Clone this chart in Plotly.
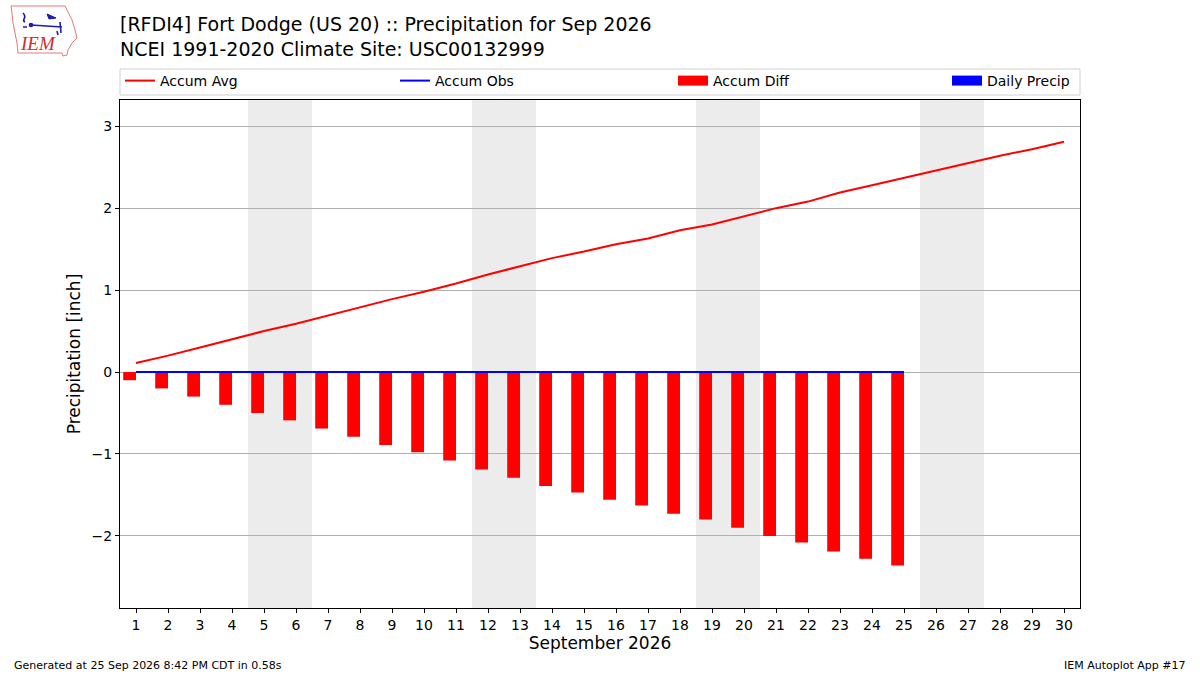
import base64
import plotly.graph_objects as go

# Dados (polegadas)
dias = list(range(1, 31))
accum_avg = [0.11, 0.20, 0.30, 0.40, 0.50, 0.59, 0.69, 0.79, 0.89, 0.98,
             1.08, 1.19, 1.29, 1.39, 1.47, 1.56, 1.63, 1.73, 1.80, 1.90,
             2.00, 2.08, 2.19, 2.28, 2.37, 2.46, 2.55, 2.64, 2.72, 2.81]
dias_obs = list(range(1, 26))
accum_obs = [0.0] * 25
daily_precip = [0.0] * 25
accum_diff = [-0.10, -0.20, -0.30, -0.40, -0.50, -0.59, -0.69, -0.79, -0.89, -0.98,
              -1.08, -1.19, -1.29, -1.39, -1.47, -1.56, -1.63, -1.73, -1.80, -1.90,
              -2.00, -2.08, -2.19, -2.28, -2.36]
fins_de_semana = [5, 6, 12, 13, 19, 20, 26, 27]
y_ticks = [-2, -1, 0, 1, 2, 3]

FONTE = "DejaVu Sans"
W, H = 1200, 675
ML, MR, MT, MB = 120, 120, 100, 67
PW, PH = W - ML - MR, H - MT - MB


def px_x(p):
    # pixel horizontal -> fracao do papel
    return (p - ML) / PW


def px_y(p):
    # pixel vertical -> fracao do papel
    return (H - MB - p) / PH


fig = go.Figure()

# barras (a legenda usa simbolos retangulares separados)
fig.add_trace(go.Bar(x=dias_obs, y=accum_diff, width=0.4, offset=-0.4,
                     marker=dict(color="#ff0000", line=dict(width=0)),
                     showlegend=False, name="Accum Diff"))
fig.add_trace(go.Bar(x=dias_obs, y=daily_precip, width=0.4, offset=0,
                     marker=dict(color="#0000ff", line=dict(width=0)),
                     showlegend=False, name="Daily Precip"))

fig.add_trace(go.Scatter(x=dias, y=accum_avg, mode="lines", name="Accum Avg",
                         line=dict(color="#ff0000", width=2), legend="legend"))
fig.add_trace(go.Scatter(x=dias_obs, y=accum_obs, mode="lines", name="Accum Obs",
                         line=dict(color="#0000ff", width=2), legend="legend2"))
fig.add_trace(go.Scatter(x=[None], y=[None], mode="lines", name="Accum Diff",
                         line=dict(color="#ff0000", width=10), legend="legend3"))
fig.add_trace(go.Scatter(x=[None], y=[None], mode="lines", name="Daily Precip",
                         line=dict(color="#0000ff", width=10), legend="legend4"))

# sombreamento dos fins de semana
for d in fins_de_semana:
    fig.add_shape(type="rect", xref="x", yref="paper", x0=d - 0.5, x1=d + 0.5,
                  y0=0, y1=1, fillcolor="#ececec", line=dict(width=0), layer="below")

# caixa da legenda
fig.add_shape(type="rect", xref="paper", yref="paper", x0=0, x1=1,
              y0=px_y(95), y1=px_y(69), line=dict(color="#d0d0d0", width=1),
              fillcolor="white", layer="above")

# logo IEM (contorno aproximado de Iowa)
svg = """<svg xmlns='http://www.w3.org/2000/svg' width='90' height='65' viewBox='0 0 90 65'>
<path d='M11 6 L65 6 L68 12 L72 20 L75 30 L77 38 L72 43 L68 50 L67 55 L63 56 L62 53 L18 53 L17 43 L15 33 L13 23 L12 13 Z'
 fill='white' stroke='#e87878' stroke-width='1'/>
<path d='M23 13 Q26 16 24 19 Q23 21 25 22 M31 25 L62 27 M60 22 L61 33 M57 31 L58 35' stroke='#1a1ab4' stroke-width='1.6' fill='none'/>
<circle cx='31' cy='25' r='2.3' fill='#1a1ab4'/>
<circle cx='24' cy='27' r='1' fill='#1a1ab4'/><circle cx='26' cy='27' r='1' fill='#1a1ab4'/>
<path d='M47 14 L56 18 L49 19 Z' fill='#1a1ab4' stroke='#1a1ab4' stroke-width='1'/>
</svg>"""
fig.add_layout_image(dict(
    source="data:image/svg+xml;base64," + base64.b64encode(svg.encode()).decode(),
    xref="paper", yref="paper", x=px_x(0), y=px_y(0), sizex=90 / PW, sizey=65 / PH,
    xanchor="left", yanchor="top", sizing="stretch", layer="above"))

leg_comum = dict(orientation="h", xanchor="left", yanchor="middle", y=px_y(81),
                 bgcolor="rgba(0,0,0,0)", borderwidth=0, itemwidth=30,
                 font=dict(size=14))

fig.update_layout(
    width=W, height=H,
    margin=dict(l=ML, r=MR, t=MT, b=MB, autoexpand=False),
    paper_bgcolor="white", plot_bgcolor="white",
    font=dict(family=FONTE, size=14, color="black"),
    barmode="overlay",
    showlegend=True,
    legend=dict(x=px_x(120), **leg_comum),
    legend2=dict(x=px_x(395), **leg_comum),
    legend3=dict(x=px_x(673), **leg_comum),
    legend4=dict(x=px_x(947), **leg_comum),
    annotations=[
        dict(text="[RFDI4] Fort Dodge (US 20) :: Precipitation for Sep 2026<br>"
                  "NCEI 1991-2020 Climate Site: USC00132999",
             xref="paper", yref="paper", x=px_x(118), y=px_y(11), xanchor="left",
             yanchor="top", align="left", showarrow=False, font=dict(size=19)),
        dict(text="<i>IEM</i>", xref="paper", yref="paper", x=px_x(38), y=px_y(44),
             xanchor="center", yanchor="middle", showarrow=False,
             font=dict(family="Liberation Serif", size=19, color="#d42a2a")),
        dict(text="Generated at 25 Sep 2026 8:42 PM CDT in 0.58s",
             xref="paper", yref="paper", x=px_x(12), y=px_y(665), xanchor="left",
             yanchor="middle", showarrow=False, font=dict(size=11)),
        dict(text="IEM Autoplot App #17",
             xref="paper", yref="paper", x=px_x(1188), y=px_y(665), xanchor="right",
             yanchor="middle", showarrow=False, font=dict(size=11)),
    ],
)

fig.update_xaxes(range=[0.5, 30.5], tickmode="array", tickvals=dias,
                 ticktext=[str(d) for d in dias],
                 ticks="outside", ticklen=4, tickcolor="black",
                 showline=True, linecolor="black", linewidth=1, mirror=True,
                 showgrid=False, zeroline=False,
                 title=dict(text="September 2026", font=dict(size=17), standoff=4))
fig.update_yaxes(range=[-2.88, 3.32], tickmode="array", tickvals=y_ticks,
                 ticks="outside", ticklen=4, tickcolor="black",
                 showline=True, linecolor="black", linewidth=1, mirror=True,
                 showgrid=True, gridcolor="#b0b0b0", gridwidth=1, zeroline=False,
                 title=dict(text="Precipitation [inch]", font=dict(size=17), standoff=6))

# a pagina tem margem de 8px no body; zera para a figura caber na janela
fig.write_html("out.html", config={"displayModeBar": False},
               post_script="document.body.style.margin='0';")
